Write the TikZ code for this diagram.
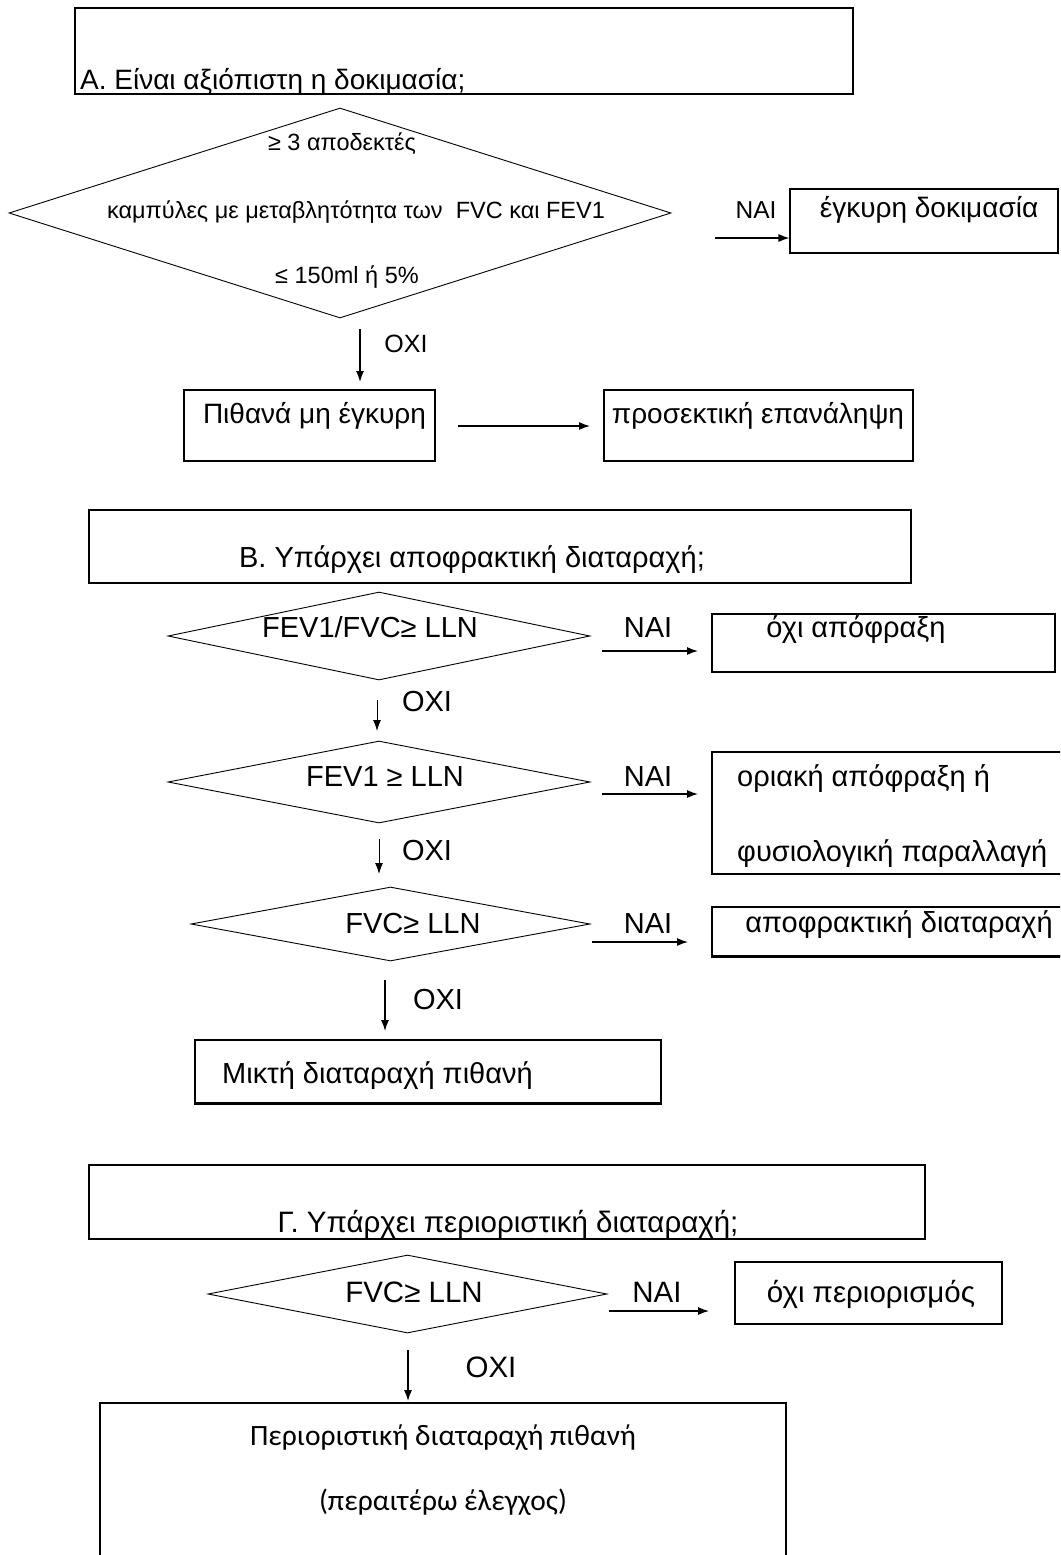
\documentclass[tikz,border=0pt]{standalone}
\usepackage{fontspec}
\setmainfont{Liberation Sans}
\newfontfamily\calfont{Carlito}
\usetikzlibrary{shapes.geometric,arrows.meta}
\newcommand{\fs}[1]{\fontsize{#1}{#1}\selectfont}
\begin{document}
\begin{tikzpicture}[x=1pt,y=-1pt,
  box/.style={draw, rectangle, line width=1.1pt, inner sep=0pt},
  dia/.style={draw, diamond, line width=0.9pt, inner sep=0pt},
  txt/.style={inner sep=0pt, anchor=base},
  txtw/.style={inner sep=0pt, anchor=base west},
  fb/.style={font=\fs{29}},
  fc/.style={font=\fs{29.5}},
  arr/.style={-{Latex[length=11pt,width=8pt]}, line width=1.3pt}]
\useasboundingbox (0,0) rectangle (1060,1555);
\clip (0,0) rectangle (1060,1555);

% ---------- Section A ----------
\node[box, minimum width=778pt, minimum height=86pt] (bA) at (464,51) {};
\node[txtw, font=\fs{28}] (tA) at (80,89) {A. Είναι αξιόπιστη η δοκιμασία;};
\node[dia, minimum width=662pt, minimum height=210pt] (dA) at (340,213) {};
\node[txt, font=\fs{23.5}] (dA1) at (342,150) {≥ 3 αποδεκτές};
\node[txt, font=\fs{23.5}] (dA2) at (356,218) {καμπύλες με μεταβλητότητα των\ \ FVC και FEV1};
\node[txt, font=\fs{23.5}] (dA3) at (347,283) {≤ 150ml ή 5\%};
\node[txt, font=\fs{24.5}] (nA) at (756,218) {ΝΑΙ};
\node[box, minimum width=268pt, minimum height=64pt] (bA1) at (924,221) {};
\node[txt, font=\fs{28}] (tA1) at (929,217) {έγκυρη δοκιμασία};
\coordinate (aA1s) at (715,238);
\draw[arr] (aA1s) -- (aA1s -| bA1.west);
\coordinate (oAs) at (360,329);
\coordinate (oAe) at (360,382);
\draw[arr] (oAs) -- (oAe);
\node[txt, font=\fs{25}] (oA) at (406,352) {ΟΧΙ};
\node[box, minimum width=251pt, minimum height=71pt] (bA2) at (309.5,425.5) {};
\node[txt, font=\fs{28}] (tA2) at (314.5,423) {Πιθανά μη έγκυρη};
\node[box, minimum width=309pt, minimum height=71pt] (bA3) at (758.5,425.5) {};
\node[txt, font=\fs{28}] (tA3) at (758,423) {προσεκτική επανάληψη};
\coordinate (aA2s) at (458,426);
\coordinate (aA2e) at (590,426);
\draw[arr] (aA2s) -- (aA2e);

% ---------- Section B ----------
\node[box, minimum width=822pt, minimum height=73pt] (bB) at (500,546.5) {};
\node[txt, fb] (tB) at (472,567) {Β. Υπάρχει αποφρακτική διαταραχή;};

\node[dia, minimum width=422pt, minimum height=88pt] (dB1) at (379,636) {};
\node[txt, fb] (tdB1) at (370,637) {FEV1/FVC≥ LLN};
\node[txt, fb] (nB1) at (648,637) {ΝΑΙ};
\node[box, minimum width=343pt, minimum height=58pt] (bB1) at (883.5,643) {};
\node[txt, fb] (tB1) at (856,637) {όχι απόφραξη};
\coordinate (aB1s) at (602,651);
\coordinate (aB1e) at (698,651);
\draw[arr] (aB1s) -- (aB1e);
\coordinate (oB1s) at (377,700);
\coordinate (oB1e) at (377,731);
\draw[arr, line width=1pt] (oB1s) -- (oB1e);
\node[txt, fb] (oB1) at (427,711) {ΟΧΙ};

\node[dia, minimum width=422pt, minimum height=82pt] (dB2) at (379,782) {};
\node[txt, fb] (tdB2) at (385,786) {FEV1 ≥ LLN};
\node[txt, fb] (nB2) at (648,786) {ΝΑΙ};
\node[box, minimum width=363pt, minimum height=122pt] (bB2) at (893.5,813) {};
\node[txtw, fb] (tB2a) at (737,786) {οριακή απόφραξη ή};
\node[txtw, fb] (tB2b) at (737,861) {φυσιολογική παραλλαγή};
\coordinate (aB2s) at (602,794);
\coordinate (aB2e) at (698,794);
\draw[arr] (aB2s) -- (aB2e);
\coordinate (oB2s) at (379,839);
\coordinate (oB2e) at (379,874);
\draw[arr, line width=1pt] (oB2s) -- (oB2e);
\node[txt, fb] (oB2) at (427,860) {ΟΧΙ};

\node[dia, minimum width=399pt, minimum height=74pt] (dB3) at (390.5,924) {};
\node[txt, fb] (tdB3) at (413,933) {FVC≥ LLN};
\node[txt, fb] (nB3) at (648,933) {ΝΑΙ};
\node[box, minimum width=363pt, minimum height=49pt] (bB3) at (893.5,931.5) {};
\draw[line width=2.2pt] (bB3.south west) -- (bB3.south east);
\node[txt, fb] (tB3) at (899,932) {αποφρακτική διαταραχή};
\coordinate (aB3s) at (592,942);
\coordinate (aB3e) at (688,942);
\draw[arr] (aB3s) -- (aB3e);
\coordinate (oB3s) at (385,980);
\coordinate (oB3e) at (385,1031);
\draw[arr] (oB3s) -- (oB3e);
\node[txt, fb] (oB3) at (438,1009) {ΟΧΙ};

\node[box, minimum width=466pt, minimum height=63pt] (bB4) at (428,1071.5) {};
\draw[line width=2pt] (bB4.south west) -- (bB4.south east);
\node[txtw, fb] (tB4) at (222,1083) {Μικτή διαταραχή πιθανή};

% ---------- Section C ----------
\node[box, minimum width=836pt, minimum height=74pt] (bC) at (507,1202) {};
\node[txt, fc] (tC) at (508,1232) {Γ. Υπάρχει περιοριστική διαταραχή;};
\node[dia, minimum width=399pt, minimum height=78pt] (dC) at (407.5,1294) {};
\node[txt, fc] (tdC) at (414,1302) {FVC≥ LLN};
\node[txt, fc] (nC) at (657,1302) {ΝΑΙ};
\node[box, minimum width=267pt, minimum height=62pt] (bC1) at (868.5,1293) {};
\node[txt, fc] (tC1) at (871,1302) {όχι περιορισμός};
\coordinate (aCs) at (609,1311);
\coordinate (aCe) at (709,1311);
\draw[arr] (aCs) -- (aCe);
\coordinate (oCs) at (408,1350);
\coordinate (oCe) at (408,1401);
\draw[arr] (oCs) -- (oCe);
\node[txt, fc] (oC) at (491,1377) {ΟΧΙ};
\node[box, minimum width=686pt, minimum height=200pt] (bC2) at (443,1503) {};
\node[txt, font=\calfont\fs{29.5}] (tC2a) at (443,1445) {Περιοριστική διαταραχή πιθανή};
\node[txt, font=\calfont\fs{29.5}] (tC2b) at (443,1510) {(περαιτέρω έλεγχος)};
\end{tikzpicture}
\end{document}
